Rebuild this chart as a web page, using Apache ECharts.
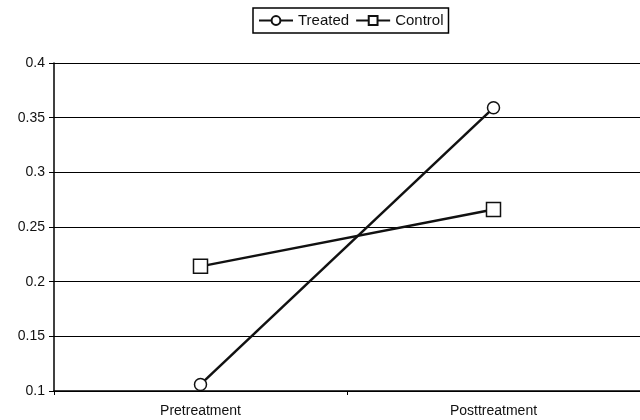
<!DOCTYPE html>
<html><head><meta charset="utf-8">
<script src="https://cdn.jsdelivr.net/npm/echarts@6/dist/echarts.min.js"></script>
<style>html,body{margin:0;padding:0;background:#fff}#c{width:640px;height:420px}</style>
</head><body><div id="c"></div>
<script>
const categories = ['Pretreatment', 'Posttreatment'];
const treated = [0.106, 0.359];
const control = [0.214, 0.266];
const yTicks = {min: 0.1, max: 0.4, interval: 0.05};

const chart = echarts.init(document.getElementById('c'), null, {renderer: 'canvas'});
const font = 'Liberation Sans, Arial, sans-serif';
chart.setOption({
  animation: false,
  backgroundColor: '#fff',
  textStyle: {fontFamily: font},
  legend: {
    top: 8, left: 253,
    data: ['Treated', 'Control'],
    itemWidth: 34, itemHeight: 11, itemGap: 6,
    borderColor: '#000', borderWidth: 1.5, padding: [5, 5],
    textStyle: {fontFamily: font, fontSize: 15, color: '#111'}
  },
  grid: {left: 54, top: 63, width: 588, height: 328, containLabel: false},
  xAxis: {
    type: 'category', data: categories, boundaryGap: true,
    axisLine: {lineStyle: {color: '#000', width: 1.5}},
    axisTick: {show: true, length: 4, inside: false, lineStyle: {color: '#000'}},
    axisLabel: {fontFamily: font, fontSize: 14, color: '#111', margin: 13}
  },
  yAxis: {
    type: 'value', min: yTicks.min, max: yTicks.max, interval: yTicks.interval,
    axisLine: {show: true, lineStyle: {color: '#000', width: 1.5}},
    axisTick: {show: true, length: 5, lineStyle: {color: '#000'}},
    axisLabel: {fontFamily: font, fontSize: 14, color: '#111', margin: 9,
      formatter: v => String(parseFloat(v.toFixed(2)))},
    splitLine: {show: true, lineStyle: {color: '#000', width: 1.2}}
  },
  series: [
    {name: 'Treated', type: 'line', data: treated, symbol: 'circle', symbolSize: 12,
     lineStyle: {color: '#111', width: 2.5}, itemStyle: {color: '#fff', borderColor: '#111', borderWidth: 1.5}},
    {name: 'Control', type: 'line', data: control, symbol: 'rect', symbolSize: 14,
     lineStyle: {color: '#111', width: 2.5}, itemStyle: {color: '#fff', borderColor: '#111', borderWidth: 1.5}}
  ]
});
</script></body></html>
